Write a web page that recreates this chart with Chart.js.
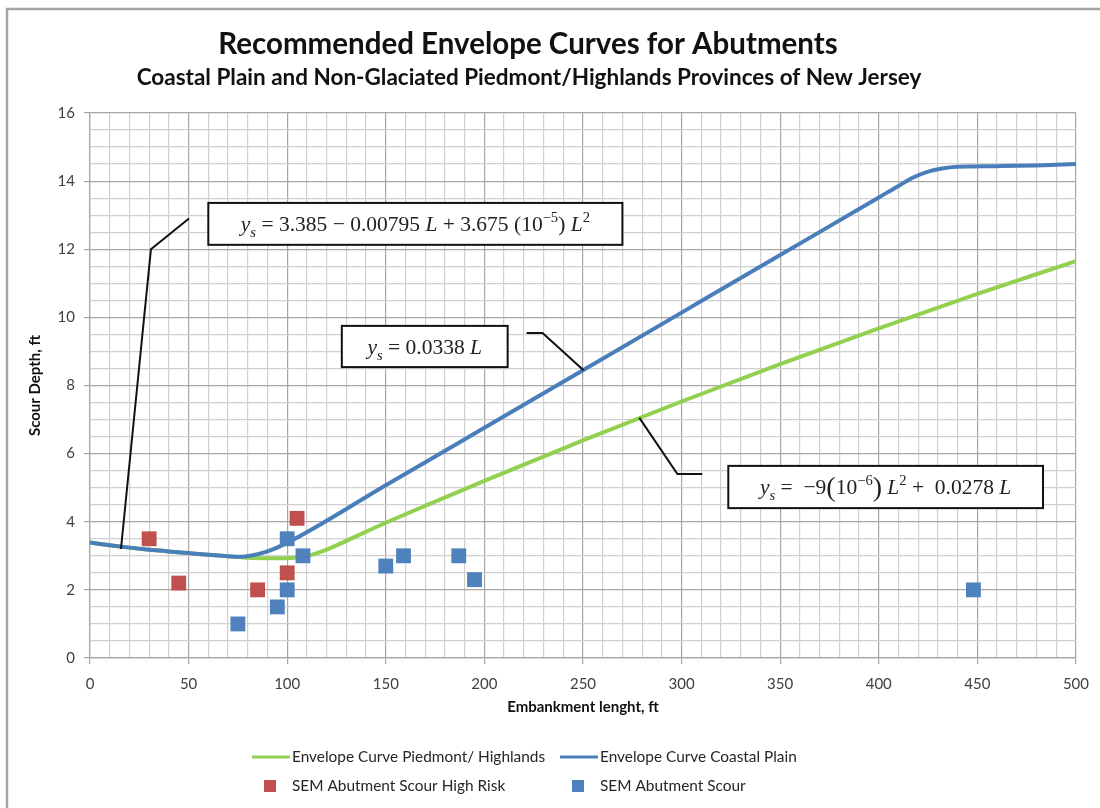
<!DOCTYPE html>
<html>
<head>
<meta charset="utf-8">
<script src="https://cdn.jsdelivr.net/npm/chart.js@4.4.1/dist/chart.umd.min.js"></script>
<style>
  html, body { margin: 0; padding: 0; background: #fff; }
  canvas { display: block; }
</style>
</head>
<body>
<canvas id="chart" width="1100" height="808"></canvas>
<script>
// Envelope curve for the Coastal Plain (embankment length L, scour depth ys)
const coastalL     = [0, 10, 20, 30, 40, 50, 60, 70, 76, 82, 90, 100, 150, 200, 250, 300, 350, 400, 410, 418, 425, 432, 440, 460, 480, 500];
const coastalDepth = [3.39, 3.31, 3.24, 3.18, 3.13, 3.08, 3.03, 2.99, 2.97, 3.01, 3.13, 3.38, 5.07, 6.76, 8.45, 10.14, 11.83, 13.52, 13.86, 14.12, 14.28, 14.37, 14.42, 14.44, 14.46, 14.5];

// Envelope curve for the Piedmont / Highlands
const piedmontL     = [0, 10, 20, 30, 40, 50, 60, 70, 80, 90, 100, 110, 120, 130, 150, 175, 200, 250, 300, 350, 400, 450, 500];
const piedmontDepth = [3.39, 3.31, 3.24, 3.18, 3.13, 3.08, 3.03, 2.99, 2.94, 2.93, 2.93, 2.99, 3.18, 3.44, 3.97, 4.59, 5.2, 6.39, 7.53, 8.63, 9.68, 10.69, 11.65];

// SEM abutment scour observations
const highRiskL     = [30, 45, 85, 100, 105];
const highRiskDepth = [3.5, 2.2, 2.0, 2.5, 4.1];
const scourL        = [75, 95, 100, 100, 108, 150, 159, 187, 195, 448];
const scourDepth    = [1.0, 1.5, 2.0, 3.5, 3.0, 2.7, 3.0, 3.0, 2.3, 2.0];

// Axis ticks
const xTickLabels = [0, 50, 100, 150, 200, 250, 300, 350, 400, 450, 500];
const yTickLabels = [0, 2, 4, 6, 8, 10, 12, 14, 16];

const GREEN = '#92d050';
const BLUE  = '#4a7ebb';
const RED   = '#c0504d';
const SQUARE_BLUE = '#4f81bd';
const MAJOR_GRID = '#a6a6a6';
const MINOR_GRID = '#d0d0d0';
const UI_FONT = 'Lato, "Open Sans", sans-serif';
const EQ_FONT = '"Liberation Serif", "DejaVu Serif", serif';

const toPoints = (xs, ys) => xs.map((x, i) => ({ x, y: ys[i] }));

// Equation call-outs, anchored in data units with leader lines to the curves
const callouts = [
  {
    box: { x0: 60, x1: 270, yTop: 13.36, yBottom: 12.13 },
    leader: [[50.2, 12.9], [30.9, 12.0], [15.7, 3.2]],
    parts: [
      { t: 'y', i: true }, { t: 's', i: true, sub: true },
      { t: ' = 3.385 \u2212 0.00795 ' }, { t: 'L', i: true },
      { t: ' + 3.675 (10' }, { t: '\u22125', sup: true }, { t: ') ' },
      { t: 'L', i: true }, { t: '2', sup: true }
    ]
  },
  {
    box: { x0: 127.7, x1: 211.8, yTop: 9.75, yBottom: 8.54 },
    leader: [[221.4, 9.54], [229.5, 9.54], [250.3, 8.45]],
    parts: [
      { t: 'y', i: true }, { t: 's', i: true, sub: true },
      { t: ' = 0.0338 ' }, { t: 'L', i: true }
    ]
  },
  {
    box: { x0: 323.7, x1: 483.3, yTop: 5.64, yBottom: 4.40 },
    leader: [[278.6, 7.05], [297.9, 5.40], [310.5, 5.40]],
    parts: [
      { t: 'y', i: true }, { t: 's', i: true, sub: true },
      { t: ' =  \u22129' }, { t: '(', big: true }, { t: '10' }, { t: '\u22126', sup: true },
      { t: ')', big: true }, { t: ' ' }, { t: 'L', i: true }, { t: '2', sup: true },
      { t: ' +  0.0278 ' }, { t: 'L', i: true }
    ]
  }
];

function partFont(p, size) {
  const s = (p.sub || p.sup) ? size * 0.68 : (p.big ? size * 1.3 : size);
  return (p.i ? 'italic ' : '') + s.toFixed(1) + 'px ' + EQ_FONT;
}

function drawRich(ctx, parts, cx, cy, size) {
  let total = 0;
  const widths = parts.map(p => { ctx.font = partFont(p, size); const w = ctx.measureText(p.t).width; total += w; return w; });
  let x = cx - total / 2;
  ctx.textBaseline = 'alphabetic';
  ctx.textAlign = 'left';
  ctx.fillStyle = '#222';
  const base = cy + size * 0.33;
  parts.forEach((p, k) => {
    ctx.font = partFont(p, size);
    let y = base;
    if (p.sub) y += size * 0.28;
    if (p.sup) y -= size * 0.42;
    if (p.big) y += size * 0.08;
    ctx.fillText(p.t, x, y);
    x += widths[k];
  });
}

const decorations = {
  id: 'decorations',
  beforeDraw(chart) {
    const ctx = chart.ctx;
    ctx.save();
    ctx.fillStyle = '#fff';
    ctx.fillRect(0, 0, chart.width, chart.height);
    ctx.strokeStyle = '#a6a6a6';
    ctx.lineWidth = 2.5;
    ctx.strokeRect(7, 9, chart.width + 20, chart.height + 20);
    ctx.restore();
  },
  afterDraw(chart) {
    const ctx = chart.ctx;
    const xs = chart.scales.x, ys = chart.scales.y;
    const area = chart.chartArea;
    ctx.save();

    // Titles
    ctx.fillStyle = '#111';
    ctx.textAlign = 'center';
    ctx.textBaseline = 'middle';
    ctx.font = 'bold 29.5px ' + UI_FONT;
    ctx.fillText('Recommended Envelope Curves for Abutments', 528, 44);
    ctx.font = 'bold 22.5px ' + UI_FONT;
    ctx.fillText('Coastal Plain and Non-Glaciated Piedmont/Highlands Provinces of New Jersey', 529, 78);

    // Axis titles
    ctx.font = 'bold 15px ' + UI_FONT;
    ctx.fillText('Embankment lenght, ft', (area.left + area.right) / 2, 707);
    ctx.save();
    ctx.translate(35, (area.top + area.bottom) / 2);
    ctx.rotate(-Math.PI / 2);
    ctx.fillText('Scour Depth, ft', 0, 0);
    ctx.restore();

    // Equation call-outs
    callouts.forEach(c => {
      ctx.strokeStyle = '#111';
      ctx.lineWidth = 2;
      ctx.beginPath();
      c.leader.forEach(([lx, ly], k) => {
        const px = xs.getPixelForValue(lx), py = ys.getPixelForValue(ly);
        if (k === 0) ctx.moveTo(px, py); else ctx.lineTo(px, py);
      });
      ctx.stroke();
      const bx0 = xs.getPixelForValue(c.box.x0), bx1 = xs.getPixelForValue(c.box.x1);
      const by0 = ys.getPixelForValue(c.box.yTop), by1 = ys.getPixelForValue(c.box.yBottom);
      ctx.fillStyle = '#fff';
      ctx.fillRect(bx0, by0, bx1 - bx0, by1 - by0);
      ctx.strokeRect(bx0, by0, bx1 - bx0, by1 - by0);
      drawRich(ctx, c.parts, (bx0 + bx1) / 2, (by0 + by1) / 2, 21.5);
    });

    // Legend, two columns by two rows
    const cols = [252, 560];
    const rows = [757, 786];
    const order = [0, 1, 2, 3];
    ctx.font = '15.4px ' + UI_FONT;
    ctx.textAlign = 'left';
    ctx.textBaseline = 'middle';
    order.forEach((di, k) => {
      const ds = chart.data.datasets[di];
      const x = cols[k % 2], y = rows[Math.floor(k / 2)];
      if (ds.showLine) {
        ctx.strokeStyle = ds.borderColor;
        ctx.lineWidth = 3;
        ctx.beginPath();
        ctx.moveTo(x, y);
        ctx.lineTo(x + 38, y);
        ctx.stroke();
      } else {
        ctx.fillStyle = ds.backgroundColor;
        ctx.fillRect(x + 12, y - 6, 12, 12);
      }
      ctx.fillStyle = '#262626';
      ctx.fillText(ds.label, x + 40, y);
    });
    ctx.restore();
  }
};

const isMajorX = v => xTickLabels.includes(v);
const isMajorY = v => yTickLabels.includes(v);

function start() {
  new Chart(document.getElementById('chart'), {
    type: 'scatter',
    data: {
      datasets: [
        {
          label: 'Envelope Curve Piedmont/ Highlands',
          data: toPoints(piedmontL, piedmontDepth),
          showLine: true, borderColor: GREEN, backgroundColor: GREEN,
          borderWidth: 4, pointRadius: 0, cubicInterpolationMode: 'monotone', order: 3
        },
        {
          label: 'Envelope Curve Coastal Plain',
          data: toPoints(coastalL, coastalDepth),
          showLine: true, borderColor: BLUE, backgroundColor: BLUE,
          borderWidth: 4, pointRadius: 0, cubicInterpolationMode: 'monotone', order: 2
        },
        {
          label: 'SEM Abutment Scour High Risk',
          data: toPoints(highRiskL, highRiskDepth),
          showLine: false, pointStyle: 'rect', pointRadius: 10.5,
          backgroundColor: RED, borderColor: RED, borderWidth: 0, order: 1
        },
        {
          label: 'SEM Abutment Scour',
          data: toPoints(scourL, scourDepth),
          showLine: false, pointStyle: 'rect', pointRadius: 10.5,
          backgroundColor: SQUARE_BLUE, borderColor: SQUARE_BLUE, borderWidth: 0, order: 1
        }
      ]
    },
    options: {
      responsive: false,
      animation: false,
      events: [],
      layout: { padding: { left: 0, right: 23, top: 113, bottom: 0 } },
      plugins: { legend: { display: false }, title: { display: false }, tooltip: { enabled: false } },
      scales: {
        x: {
          type: 'linear', min: 0, max: 500,
          afterFit: s => { s.height = 150; },
          ticks: {
            stepSize: 10, autoSkip: false, maxRotation: 0, padding: 11,
            callback: v => isMajorX(v) ? String(v) : '',
            font: { family: UI_FONT, size: 15 }, color: '#404040'
          },
          grid: {
            color: c => (c.tick && isMajorX(c.tick.value)) ? MAJOR_GRID : MINOR_GRID,
            tickColor: c => (c.tick && isMajorX(c.tick.value)) ? MAJOR_GRID : 'rgba(0,0,0,0)',
            tickLength: 6, lineWidth: 1.2
          },
          border: { color: MAJOR_GRID, width: 1.2 }
        },
        y: {
          type: 'linear', min: 0, max: 16,
          afterFit: s => { s.width = 90; },
          ticks: {
            stepSize: 0.5, autoSkip: false, padding: 9,
            callback: v => isMajorY(v) ? String(v) : '',
            font: { family: UI_FONT, size: 15 }, color: '#404040'
          },
          grid: {
            color: c => (c.tick && isMajorY(c.tick.value)) ? MAJOR_GRID : MINOR_GRID,
            tickColor: c => (c.tick && isMajorY(c.tick.value)) ? MAJOR_GRID : 'rgba(0,0,0,0)',
            tickLength: 6, lineWidth: 1.2
          },
          border: { color: MAJOR_GRID, width: 1.2 }
        }
      }
    },
    plugins: [decorations]
  });
}

const fontLoads = [
  'bold 28px Lato', '16px Lato', '14px Lato',
  '20px "Liberation Serif"', 'italic 20px "Liberation Serif"'
].map(f => document.fonts.load(f).catch(() => null));
Promise.all(fontLoads).then(start, start);
</script>
</body>
</html>
